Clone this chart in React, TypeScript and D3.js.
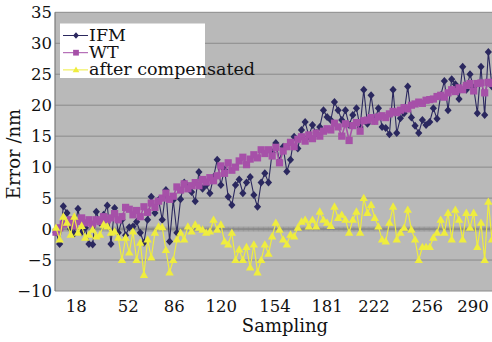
import React from 'react';
import * as d3 from 'd3';

// Series values (Error / nm), evenly spaced along the sampling axis
const ifm = [
  -0.5, -2.4, 3.7, 2.6, 0.0, -0.7, 3.3, -0.5, 0.2, -2.4,
  -2.5, 2.8, 1.0, 2.3, 3.8, -2.4, 3.4, -0.6, 1.5, -1.0,
  0.3, 0.4, 1.2, -0.6, -2.2, 1.5, 5.2, 2.6, 4.7, 1.5,
  6.3, -2.0, 4.7, -0.6, 4.8, 7.5, 6.8, 6.0, 4.5, 9.2,
  6.5, 7.1, 5.8, 8.4, 11.2, 7.1, 9.6, 5.2, 3.9, 7.1,
  8.0, 5.8, 7.5, 8.4, 5.5, 3.6, 7.5, 9.0, 7.5, 12.4,
  13.9, 11.0, 13.3, 9.3, 11.2, 14.9, 13.0, 16.0, 17.3, 15.0,
  16.8, 15.5, 16.5, 19.2, 18.1, 17.6, 20.5, 19.2, 17.6, 19.2,
  16.8, 18.4, 19.5, 16.5, 22.5, 17.0, 21.6, 17.5, 19.5, 16.5,
  16.3, 15.3, 22.5, 15.5, 17.9, 18.7, 23.0, 18.0, 16.7, 15.5,
  17.6, 16.8, 17.3, 19.5, 17.8, 21.6, 23.9, 19.2, 24.2, 23.4,
  21.0, 26.2, 22.5, 25.0, 22.8, 18.7, 26.2, 18.4, 28.6, 23.0,
];
const wt = [
  -0.5, 0.2, 0.8, 1.0, 1.5, 0.5, 1.2, 1.8, 1.0, 1.5,
  0.8, 1.5, 1.2, 2.0, 1.5, 1.8, 2.5, 1.5, 2.0, 3.5,
  3.2, 2.3, 3.0, 2.0, 3.6, 2.7, 4.2, 3.5, 4.5, 5.0,
  5.8, 4.8, 5.3, 6.8, 6.3, 7.3, 6.5, 7.0, 7.5, 7.0,
  8.0, 7.6, 8.3, 7.8, 8.6, 10.2, 9.0, 10.7, 9.5, 10.0,
  11.0, 11.6, 10.4, 11.3, 12.0, 11.5, 12.8, 12.2, 12.8, 11.8,
  13.2, 10.7, 12.6, 13.3, 14.0, 13.3, 14.5, 14.9, 14.2, 15.2,
  14.6, 15.5, 15.0, 15.8, 16.2, 16.0, 17.1, 16.5, 15.0, 17.0,
  14.3, 16.7, 17.2, 15.8, 17.5, 17.6, 18.0, 17.4, 18.1, 18.3,
  18.0, 18.6, 19.0, 18.8, 19.2, 19.6, 19.4, 20.0, 20.2, 20.5,
  20.3, 20.8, 20.9, 21.0, 21.4, 21.6, 21.3, 22.0, 22.5, 22.2,
  22.8, 22.5, 23.2, 23.5, 22.3, 23.5, 23.6, 22.0, 23.7, 23.5,
];
const compensated = [
  0.2, -1.7, 2.0, 1.0, -0.9, 2.0, -0.6, 0.5, -1.4, -0.9,
  -0.1, -1.2, -0.9, 0.7, 0.4, -0.6, -0.4, -1.4, -5.0, -1.4,
  -3.8, -0.4, -5.0, -2.2, -7.4, -1.7, -4.6, -0.6, 0.4, 0.3,
  -3.4, -7.0, -5.0, -1.7, -0.6, -1.7, 0.4, -0.4, 0.7, 0.2,
  -0.1, -0.6, -0.4, 1.5, -0.1, 0.7, -2.0, -2.5, -0.6, -5.0,
  -3.3, -5.0, -2.9, -6.2, -2.5, -7.0, -5.0, -2.5, -4.0, -1.2,
  1.0, -0.1, -1.7, -2.5, -0.9, -1.2, 0.2, 1.2, 1.5, 0.4,
  1.5, 0.4, 2.8, 1.5, 1.0, 0.5, 3.6, 1.8, 2.3, 1.5,
  -0.6, 1.5, 2.8, -0.6, 5.0, 2.6, 3.9, 1.8, 0.4, -1.7,
  -2.0, 1.0, 3.6, -1.7, -0.6, 0.2, 3.1, -0.1, -1.7, -5.0,
  -2.9, -2.9, -2.9, -1.4, -0.6, 1.5, -0.6, 2.6, -1.7, 3.1,
  1.5, -1.7, 2.6, 0.2, 2.6, -2.9, 1.0, -5.0, 4.4, -1.7,
];

const seriesNames = ['IFM', 'WT', 'after compensated'];
const xTickLabels = ['18', '52', '86', '120', '154', '181', '222', '256', '290'];
// position (in point index) where each category label sits
const xTickAt = [5.5, 19.7, 32.3, 45.1, 59.8, 74.0, 86.8, 101.3, 113.8];
const yTicks = [-10, -5, 0, 5, 10, 15, 20, 25, 30, 35];
const categoryCount = 350;

const W = 492;
const H = 342;
const plotL = 55;
const plotR = 492;
const plotT = 12.3;
const plotB = 291;

const colors = { ifm: '#2b285f', wt: '#a650a8', comp: '#efed3e' };
const FONT = 'DejaVu Serif';

const diamond = 'M0,-4L3.6,0L0,4L-3.6,0Z';
const square = 'M-3.6,-3.6L3.6,-3.6L3.6,3.6L-3.6,3.6Z';
const triangle = 'M0,-4.4L4.2,3L-4.2,3Z';

export default function App() {
  const x = d3.scaleLinear().domain([0, ifm.length - 1]).range([56, 492]);
  const y = d3.scaleLinear().domain([-10, 35]).range([plotB, plotT]);
  const line = d3
    .line<number>()
    .x((_, i) => x(i))
    .y((d) => y(d));

  const catX = d3.scaleLinear().domain([0, categoryCount]).range([plotL, plotR]);
  const catTicks = d3.range(0, categoryCount + 1);

  const series = [
    { key: 'ifm', data: ifm, color: colors.ifm, marker: diamond, lw: 1.1 },
    { key: 'wt', data: wt, color: colors.wt, marker: square, lw: 1.6 },
    { key: 'comp', data: compensated, color: colors.comp, marker: triangle, lw: 1.2 },
  ];

  const fmt = (v: number) => (v < 0 ? '\u2212' + Math.abs(v) : String(v));

  return (
    <svg
      width={W}
      height={H}
      style={{ position: 'absolute', left: 0, top: 0, background: '#fff' }}
      fontFamily={FONT}
    >
      <rect x={plotL} y={plotT} width={plotR - plotL} height={plotB - plotT} fill="#b9b9b9" />
      {yTicks.map((t) => (
        <line
          key={'g' + t}
          x1={plotL}
          x2={plotR}
          y1={y(t)}
          y2={y(t)}
          stroke="#8a8a8a"
          strokeWidth={1}
        />
      ))}
      <line x1={plotL} x2={plotL} y1={plotT} y2={plotB} stroke="#7a7a7a" strokeWidth={1.2} />
      {/* category axis at zero with dense tick marks */}
      {catTicks.map((c) => (
        <line
          key={'c' + c}
          x1={catX(c)}
          x2={catX(c)}
          y1={y(0) - 2.5}
          y2={y(0) + 2.5}
          stroke="#858585"
          strokeWidth={0.6}
        />
      ))}
      <line x1={plotL} x2={plotR} y1={y(0)} y2={y(0)} stroke="#858585" strokeWidth={1} />

      {series.map((s) => (
        <g key={s.key}>
          <path d={line(s.data) || ''} fill="none" stroke={s.color} strokeWidth={s.lw} />
          {s.data.map((v, i) => (
            <path key={i} d={s.marker} transform={`translate(${x(i)},${y(v)})`} fill={s.color} />
          ))}
        </g>
      ))}

      {/* y axis labels */}
      {yTicks.map((t) => (
        <text
          key={'yl' + t}
          x={52}
          y={y(t)}
          textAnchor="end"
          dominantBaseline="central"
          fontSize={16.5}
          fill="#111"
        >
          {fmt(t)}
        </text>
      ))}
      {/* x axis labels */}
      {xTickLabels.map((lab, i) => (
        <text
          key={'xl' + lab}
          x={x(xTickAt[i])}
          y={312}
          textAnchor="middle"
          fontSize={16.5}
          fill="#111"
        >
          {lab}
        </text>
      ))}
      <text x={285} y={332} textAnchor="middle" fontSize={18} fill="#111">
        Sampling
      </text>
      <text
        transform={`translate(20,154) rotate(-90)`}
        textAnchor="middle"
        fontSize={18}
        fill="#111"
      >
        Error /nm
      </text>

      {/* legend */}
      <rect x={60} y={23.5} width={145} height={54.5} fill="#fff" />
      {series.map((s, i) => {
        const ly = 35.5 + i * 17.2;
        return (
          <g key={'lg' + s.key}>
            <line x1={63} x2={88} y1={ly} y2={ly} stroke={s.color} strokeWidth={1} />
            <path
              d={s.marker}
              transform={`translate(76,${ly}) scale(0.8)`}
              fill={s.color}
            />
            <text x={89} y={ly + 5.5} fontSize={17.5} fill="#111">
              {seriesNames[i]}
            </text>
          </g>
        );
      })}
    </svg>
  );
}
